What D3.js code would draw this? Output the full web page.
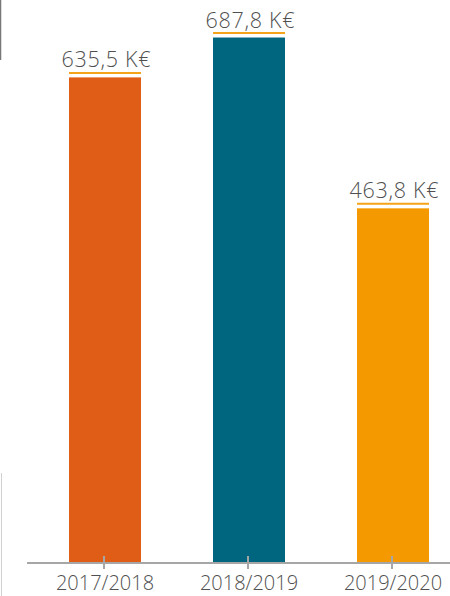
<!DOCTYPE html>
<html>
<head>
<meta charset="utf-8">
<script src="https://cdn.jsdelivr.net/npm/d3@7"></script>
<style>
html,body{margin:0;padding:0;background:#fff;}
svg{display:block;}
</style>
</head>
<body>
<svg id="chart" width="450" height="596"></svg>
<script>
const categories = ["2017/2018", "2018/2019", "2019/2020"];
const values = [635.5, 687.8, 463.8];
const valueLabels = ["635,5 K€", "687,8 K€", "463,8 K€"];
const colors = ["#E05D17", "#00657F", "#F49A00"];

const svg = d3.select("#chart");
const baseY = 562;

const x = d3.scaleBand().domain(categories).range([33, 465]).paddingInner(0.5).paddingOuter(0.25);
const y = d3.scaleLinear().domain([0, 737]).range([baseY, 0]);

// left-edge artifacts
svg.append("line").attr("x1", 0.5).attr("x2", 0.5).attr("y1", 0).attr("y2", 60)
  .attr("stroke", "#777").attr("stroke-width", 1.5);
svg.append("line").attr("x1", 1.5).attr("x2", 1.5).attr("y1", 473).attr("y2", 596)
  .attr("stroke", "#d0d0d0").attr("stroke-width", 1);

// bars
svg.selectAll("rect.bar").data(values).enter().append("rect")
  .attr("class", "bar")
  .attr("x", (d, i) => x(categories[i]))
  .attr("width", x.bandwidth())
  .attr("y", d => y(d))
  .attr("height", d => baseY - y(d))
  .attr("fill", (d, i) => colors[i]);

// underline above bars
svg.selectAll("line.ul").data(values).enter().append("line")
  .attr("class", "ul")
  .attr("x1", (d, i) => x(categories[i]))
  .attr("x2", (d, i) => x(categories[i]) + x.bandwidth())
  .attr("y1", d => y(d) - 4.5)
  .attr("y2", d => y(d) - 4.5)
  .attr("stroke", "#F5A31A").attr("stroke-width", 2);

// value labels
svg.selectAll("text.val").data(values).enter().append("text")
  .attr("class", "val")
  .attr("x", (d, i) => x(categories[i]) + x.bandwidth() / 2 + 1)
  .attr("y", d => y(d) - 10)
  .attr("text-anchor", "middle")
  .attr("font-family", "'Open Sans', sans-serif")
  .attr("font-weight", 350)
  .attr("font-size", 21.5)
  .attr("textLength", 89)
  .attr("lengthAdjust", "spacing")
  .attr("fill", "#505050")
  .text((d, i) => valueLabels[i]);

// x axis
const axis = d3.axisBottom(x).tickSize(0).tickPadding(0);
const gx = svg.append("g").attr("transform", `translate(0,${baseY})`).call(axis);
gx.select(".domain").remove();
svg.append("line").attr("x1", 27).attr("x2", 450).attr("y1", baseY + 1).attr("y2", baseY + 1)
  .attr("stroke", "#A6A6A6").attr("stroke-width", 2);
gx.selectAll(".tick").append("line")
  .attr("x1", -1).attr("x2", -1).attr("y1", -6).attr("y2", 7)
  .attr("stroke", "#A6A6A6").attr("stroke-width", 2);
gx.selectAll(".tick text")
  .attr("y", 28)
  .attr("dy", 0)
  .attr("font-family", "'Open Sans', sans-serif")
  .attr("font-weight", 350)
  .attr("font-size", 20)
  .attr("fill", "#505050");
</script>
</body>
</html>
